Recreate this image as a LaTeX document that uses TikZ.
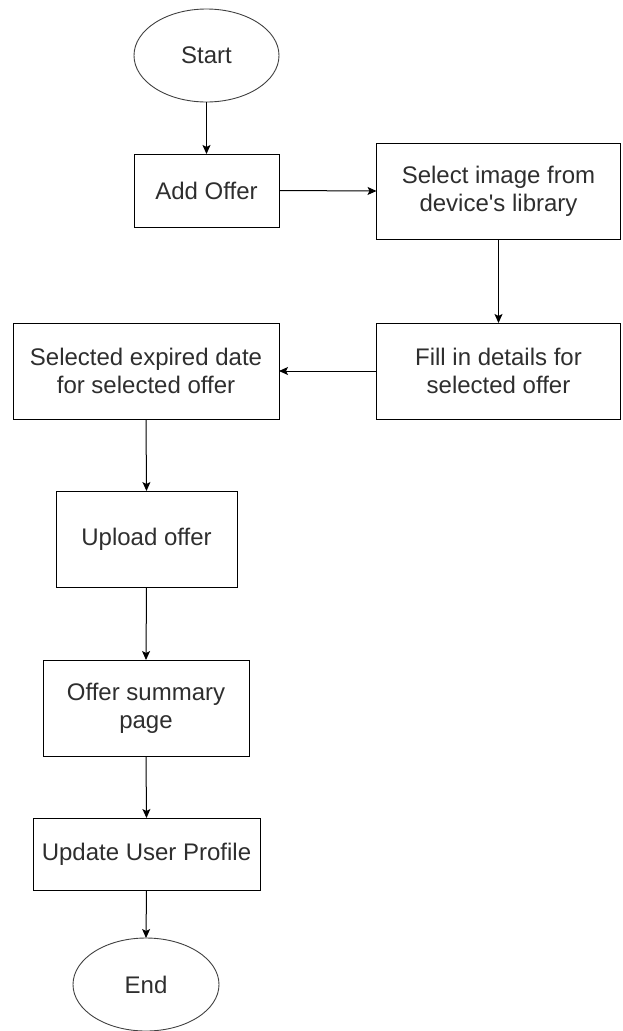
\documentclass[tikz,border=0pt]{standalone}
\usepackage{fontspec}
\setmainfont{Liberation Sans}
\usetikzlibrary{shapes.geometric,arrows.meta}
\definecolor{inkline}{HTML}{000000}
\definecolor{inktext}{HTML}{2E2E2E}
\begin{document}
\begin{tikzpicture}[x=1pt,y=-1pt,
  every node/.style={inner sep=0pt,outer sep=0pt,text=inktext,align=center,
    font=\fontsize{24}{28}\selectfont},
  procbox/.style={draw=inkline,line width=1pt,rectangle},
  terminal/.style={draw=inkline!75,line width=0.9pt,ellipse},
  flow/.style={draw=inkline,line width=1pt,-{Stealth[length=9pt,width=8pt,inset=2pt]}}]
\useasboundingbox (0,0) rectangle (622,1031);
% start / end terminals
\node[terminal,minimum width=145pt,minimum height=93pt] (start) at (206.5,55.5) {Start};
\node[terminal,minimum width=146pt,minimum height=93pt] (end) at (146,984.5) {End};
% process steps
\node[procbox,minimum width=145pt,minimum height=73pt] (add) at (206.5,190.5) {Add Offer};
\node[procbox,minimum width=244pt,minimum height=96pt] (sel) at (498.5,191) {Select image from\\device\textquotesingle s library};
\node[procbox,minimum width=244pt,minimum height=96pt] (fill) at (498.5,371) {Fill in details for\\selected offer};
\node[procbox,minimum width=266pt,minimum height=96pt] (exp) at (146,371) {Selected expired date\\for selected offer};
\node[procbox,minimum width=181pt,minimum height=96pt] (up) at (146.5,539) {Upload offer};
\node[procbox,minimum width=206pt,minimum height=96pt] (sum) at (146,708) {Offer summary\\page};
\node[procbox,minimum width=227pt,minimum height=72pt] (upd) at (146.5,854) {Update User Profile};
% connectors
\draw[flow] (start.south) -- (add.north);
\draw[flow] (add.east) -- (sel.west);
\draw[flow] (sel.south) -- (fill.north);
\draw[flow] (fill.west) -- (exp.east);
\draw[flow] (exp.south) -- (up.north);
\draw[flow] (up.south) -- (sum.north);
\draw[flow] (sum.south) -- (upd.north);
\draw[flow] (upd.south) -- (end.north);
\end{tikzpicture}
\end{document}
